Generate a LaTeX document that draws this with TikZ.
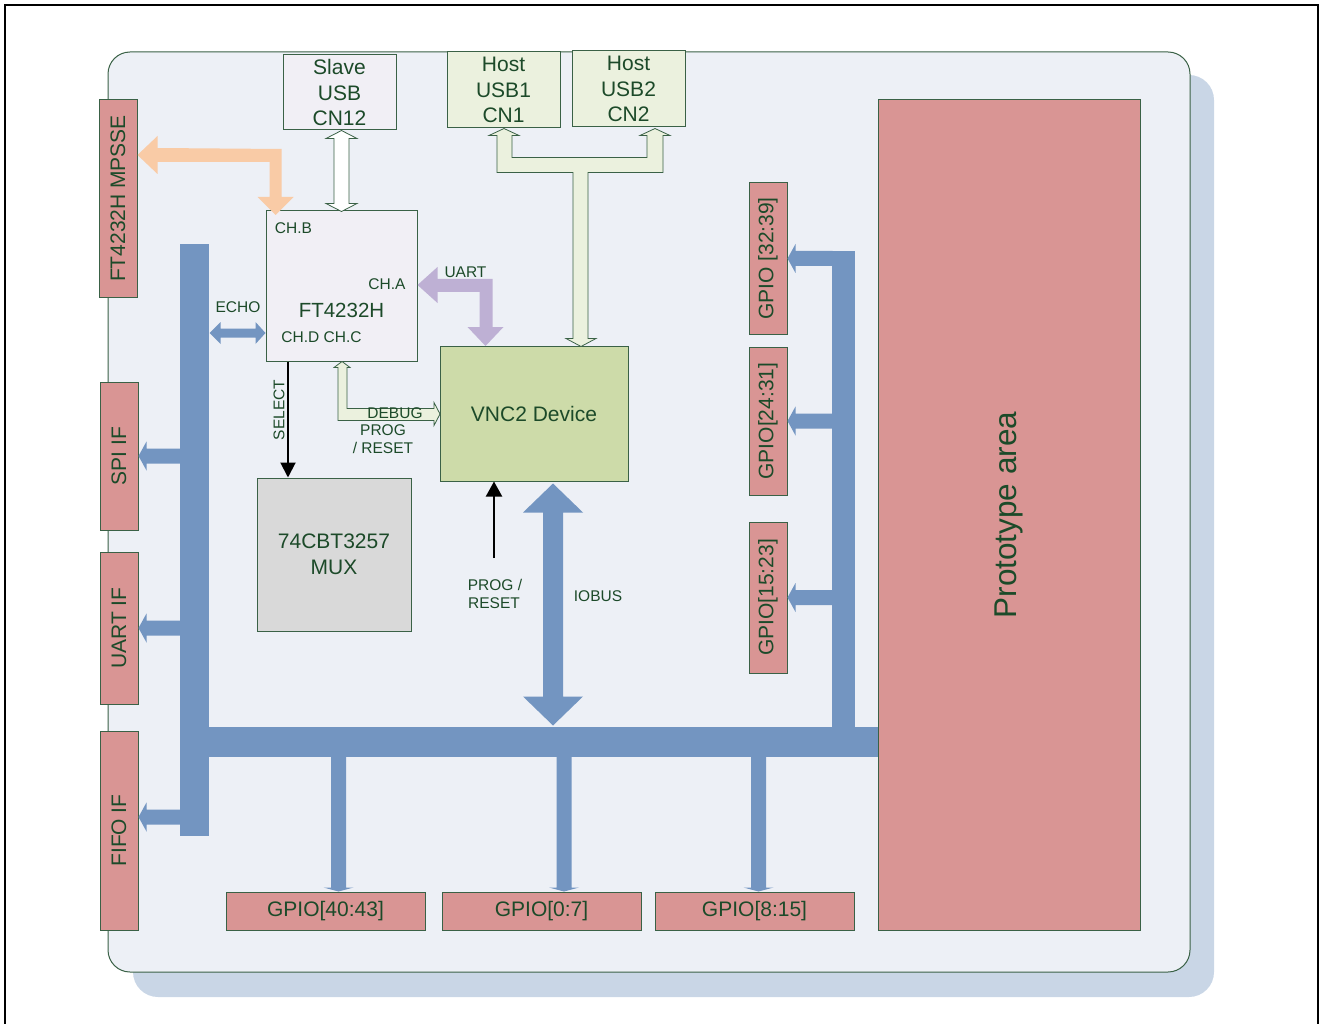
\documentclass[tikz,border=0pt]{standalone}
\usepackage{fontspec}
\setmainfont{Liberation Sans}
\usetikzlibrary{arrows.meta}
\definecolor{txtg}{HTML}{1C4A29}
\definecolor{bordg}{HTML}{3A6146}
\definecolor{redf}{HTML}{D99594}
\definecolor{busb}{HTML}{7395C1}
\definecolor{panelf}{HTML}{EDF0F6}
\definecolor{shadowf}{HTML}{C9D6E6}
\definecolor{lavf}{HTML}{F1EFF5}
\definecolor{hostf}{HTML}{EBF1DE}
\definecolor{vncf}{HTML}{CDDBA9}
\definecolor{muxf}{HTML}{D9D9D9}
\definecolor{orangef}{HTML}{F9CBA6}
\definecolor{purplef}{HTML}{BEB0D4}
\begin{document}
\begin{tikzpicture}[x=1pt,y=-1pt,
  box/.style={draw=bordg, line width=1pt, inner sep=0pt, align=center, text=txtg, font=\fontsize{21}{25.5}\selectfont},
  redbox/.style={box, fill=redf},
  lbl/.style={text=txtg, inner sep=0pt, align=center, font=\fontsize{15.5}{18}\selectfont},
  biglbl/.style={text=txtg, inner sep=0pt, align=center, font=\fontsize{21}{25.5}\selectfont},
  bus/.style={fill=busb},
  hollow/.style={draw=bordg, line width=0.8pt},
  blackarrow/.style={line width=2pt, -{Triangle[length=15pt,width=15pt]}}
]
\useasboundingbox (0,0) rectangle (1322,1024);
% outer frame
\draw[line width=2.5pt] (5,1024) -- (5,5) -- (1318,5) -- (1318,1024);
% panel and shadow
\fill[shadowf, rounded corners=25pt] (133,75) rectangle (1214,997);
\draw[bordg, fill=panelf, line width=1pt, rounded corners=22pt] (108,52) rectangle (1190,972);

% boxes
\node[redbox, minimum width=38pt, minimum height=197pt] (mpsse) at (118,198.5) {};
\node[redbox, minimum width=38pt, minimum height=148pt] (spi) at (119,456) {};
\node[redbox, minimum width=38pt, minimum height=152pt] (uartif) at (119,628) {};
\node[redbox, minimum width=38pt, minimum height=199pt] (fifo) at (119,830.5) {};
\node[biglbl, rotate=90] at (mpsse) {FT4232H MPSSE};
\node[biglbl, rotate=90] at (spi) {SPI IF};
\node[biglbl, rotate=90] at (uartif) {UART IF};
\node[biglbl, rotate=90] at (fifo) {FIFO IF};

\node[box, fill=lavf, minimum width=113pt, minimum height=75pt] (slave) at (339.5,92.5) {Slave\\USB\\CN12};
\node[box, fill=hostf, minimum width=113pt, minimum height=76pt] (host1) at (503.5,90) {Host\\USB1\\CN1};
\node[box, fill=hostf, minimum width=113pt, minimum height=76pt] (host2) at (628.5,89) {Host\\USB2\\CN2};

\node[box, fill=lavf, minimum width=151pt, minimum height=150pt] (ft) at (341.5,286) {};
\node[box, fill=vncf, minimum width=188pt, minimum height=135pt] (vnc) at (534,413.5) {VNC2 Device};
\node[box, fill=muxf, minimum width=154pt, minimum height=153pt] (mux) at (334,554.5) {74CBT3257\\MUX};

\node[redbox, minimum width=38pt, minimum height=151pt] (g3239) at (768,258.5) {};
\node[redbox, minimum width=38pt, minimum height=148pt] (g2431) at (768,421) {};
\node[redbox, minimum width=38pt, minimum height=151pt] (g1523) at (768,597.5) {};
\node[biglbl, rotate=90] at (g3239) {GPIO [32:39]};
\node[biglbl, rotate=90] at (g2431) {GPIO[24:31]};
\node[biglbl, rotate=90] at (g1523) {GPIO[15:23]};

\node[redbox, minimum width=262pt, minimum height=830pt] (proto) at (1009,515) {};
\node[text=txtg, inner sep=0pt, rotate=90, font=\fontsize{31.5}{36}\selectfont] at (proto) {Prototype area};

\node[redbox, minimum width=199pt, minimum height=38pt] (g4043) at (325.5,911) {GPIO[40:43]};
\node[redbox, minimum width=199pt, minimum height=38pt] (g07) at (541.5,911) {GPIO[0:7]};
\node[redbox, minimum width=199pt, minimum height=38pt] (g815) at (754.5,911) {GPIO[8:15]};

% FT4232H inner labels
\node[lbl] (chb) at (293.5,228) {CH.B};
\node[lbl] (cha) at (387,284) {CH.A};
\node[biglbl, font=\fontsize{20.5}{24}\selectfont] (ftname) at (341.5,310) {FT4232H};
\node[lbl] (chdc) at (321.5,337) {CH.D CH.C};

% bus bars
\fill[bus] (180,244) rectangle (209,836);
\fill[bus] (180,727) rectangle (proto.west |- 0,757);
\fill[bus] (832,251) rectangle (855,727);
% left branches
\fill[bus] (spi.east) -- ++(8,-14.5) -- ++(0,7) -- ++(34,0) -- ++(0,15) -- ++(-34,0) -- ++(0,7) -- cycle;
\fill[bus] (uartif.east) -- ++(8,-14.5) -- ++(0,7) -- ++(34,0) -- ++(0,15) -- ++(-34,0) -- ++(0,7) -- cycle;
\fill[bus] ([yshift=13.5pt]fifo.east) -- ++(8,-14.5) -- ++(0,7) -- ++(34,0) -- ++(0,15) -- ++(-34,0) -- ++(0,7) -- cycle;
% right branches
\fill[bus] (g3239.east) -- ++(8,-14.5) -- ++(0,7) -- ++(37,0) -- ++(0,15) -- ++(-37,0) -- ++(0,7) -- cycle;
\fill[bus] (g2431.east) -- ++(8,-14.5) -- ++(0,7) -- ++(37,0) -- ++(0,15) -- ++(-37,0) -- ++(0,7) -- cycle;
\fill[bus] (g1523.east) -- ++(8,-14.5) -- ++(0,7) -- ++(37,0) -- ++(0,15) -- ++(-37,0) -- ++(0,7) -- cycle;
% bottom branches
\fill[bus] ([xshift=13pt]g4043.north) -- ++(-15,-4) -- ++(7.5,0) -- ++(0,-131) -- ++(15,0) -- ++(0,131) -- ++(7.5,0) -- cycle;
\fill[bus] ([xshift=22.5pt]g07.north) -- ++(-15,-4) -- ++(7.5,0) -- ++(0,-131) -- ++(15,0) -- ++(0,131) -- ++(7.5,0) -- cycle;
\fill[bus] ([xshift=4pt]g815.north) -- ++(-15,-4) -- ++(7.5,0) -- ++(0,-131) -- ++(15,0) -- ++(0,131) -- ++(7.5,0) -- cycle;
% IOBUS double arrow
\fill[bus] ([xshift=19pt,yshift=-2pt]vnc.south) -- ++(30,29) -- ++(-20,0) -- ++(0,184) -- ++(20,0) -- ++(-30,29) -- ++(-30,-29) -- ++(20,0) -- ++(0,-184) -- ++(-20,0) -- cycle;
% ECHO double arrow
\fill[bus] ([yshift=-47pt]ft.west) -- ++(-10,-11) -- ++(0,6.5) -- ++(-35,0) -- ++(0,-6.5) -- ++(-11,11) -- ++(11,11) -- ++(0,-6.5) -- ++(35,0) -- ++(0,6.5) -- cycle;

% orange MPSSE arrow
\fill[orangef] ([yshift=43.5pt]mpsse.east) -- ++(20,-19) -- ++(0,12) -- ++(124,1) -- ++(0,48) -- ++(12,0) -- ++(-18,18) -- ++(-18,-18) -- ++(12,0) -- ++(0,-35) -- ++(-112,0) -- ++(0,12) -- cycle;
% slave USB hollow arrow
\filldraw[hollow, fill=white] ([xshift=2pt]slave.south) -- ++(15.5,8) -- ++(-8,0) -- ++(0,65) -- ++(8,0) -- ++(-15.5,8) -- ++(-15.5,-8) -- ++(8,0) -- ++(0,-65) -- ++(-8,0) -- cycle;
% host USB tree
\filldraw[hollow, fill=hostf] ([xshift=0.5pt]host1.south) -- ++(15,7) -- ++(-7,0) -- ++(0,22) -- ++(135,0) -- ++(0,-22) -- ++(-7,0) -- ++(15,-7) -- ++(15,7) -- ++(-7,0) -- ++(0,37) -- ++(-75,0) -- ++(0,166) -- ++(8,0) -- ++(-15,8) -- ++(-15,-8) -- ++(7,0) -- ++(0,-166) -- ++(-76,0) -- ++(0,-37) -- ++(-8,0) -- cycle;
% UART purple arrow
\fill[purplef] ([yshift=1pt]ft.east) -- ++(20,-18) -- ++(0,12) -- ++(55,0) -- ++(0,48) -- ++(11,0) -- ++(-18,19) -- ++(-18,-19) -- ++(12,0) -- ++(0,-35) -- ++(-42,0) -- ++(0,11) -- cycle;
% DEBUG hollow arrow
\filldraw[hollow, fill=hostf] ([xshift=0.5pt]ft.south) -- ++(8,6) -- ++(-3,0) -- ++(0,41) -- ++(87,0) -- ++(0,-6) -- ++(6,11.5) -- ++(-6,11.5) -- ++(0,-5) -- ++(-96,0) -- ++(0,-53) -- ++(-4,0) -- cycle;

% black arrows
\coordinate (selx) at (288,0);
\draw[blackarrow] (selx |- ft.south) -- (selx |- mux.north);
\coordinate (progc) at (494,558);
\draw[line width=2pt, -{Triangle[length=15pt,width=16pt]}] (progc) -- (progc |- vnc.south);

% labels
\node[lbl] at (238,307) {ECHO};
\node[lbl] at (465.5,272) {UART};
\node[lbl, rotate=90] at (279,410) {SELECT};
\node[lbl] at (395,413) {DEBUG};
\node[lbl] at (383,430) {PROG};
\node[lbl] at (383,448) {/ RESET};
\node[lbl] at (495,585) {PROG /};
\node[lbl] at (494,603) {RESET};
\node[lbl] at (598,596) {IOBUS};
\end{tikzpicture}
\end{document}
